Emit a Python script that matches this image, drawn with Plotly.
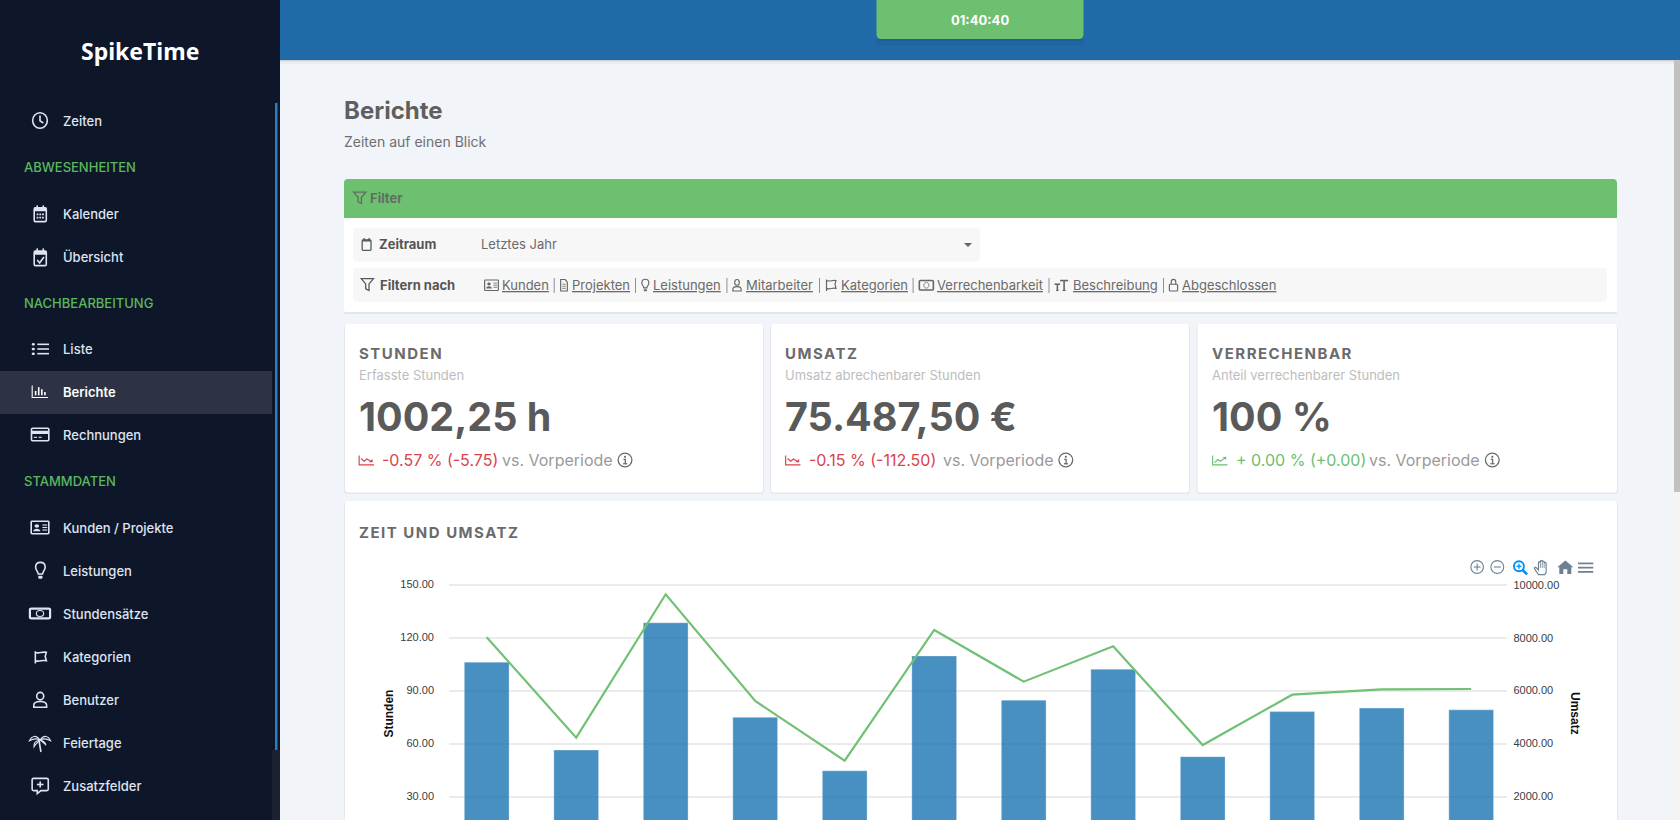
import plotly.graph_objects as go

# ---------- chart data ----------
months = ["Jan", "Feb", "Mär", "Apr", "Mai", "Jun", "Jul", "Aug", "Sep", "Okt", "Nov", "Dez"]
stunden = [106.5, 56.75, 128.75, 75.25, 45.0, 110.0, 85.0, 102.5, 53.0, 78.5, 80.5, 79.5]
umsatz = [8054, 4258, 9680, 5645, 3389, 8330, 6376, 7713, 3981, 5883, 6086, 6098]
stunden_ticks = [30, 60, 90, 120, 150]
umsatz_ticks = [2000, 4000, 6000, 8000, 10000]

W, H = 1680, 820
INTER = "Inter"
shapes, notes = [], []


def tr(d, ox=0, oy=0, sx=1, sy=1):
    out, is_x = [], True
    for t in d.split():
        if t.isalpha():
            out.append(t)
        else:
            v = float(t)
            if is_x:
                out.append(f"{(ox + sx * v) / W:.6f}")
            else:
                out.append(f"{1 - (oy + sy * v) / H:.6f}")
            is_x = not is_x
    return " ".join(out)


def C(cx, cy, r, ry=None):
    ry = r if ry is None else ry
    k, q = 0.5523 * r, 0.5523 * ry
    return (f"M {cx - r} {cy} C {cx - r} {cy - q} {cx - k} {cy - ry} {cx} {cy - ry} "
            f"C {cx + k} {cy - ry} {cx + r} {cy - q} {cx + r} {cy} "
            f"C {cx + r} {cy + q} {cx + k} {cy + ry} {cx} {cy + ry} "
            f"C {cx - k} {cy + ry} {cx - r} {cy + q} {cx - r} {cy} Z")


def R(x0, y0, x1, y1, r=0, top=True, bottom=True):
    rt = r if top else 0
    rb = r if bottom else 0
    return (f"M {x0 + rt} {y0} L {x1 - rt} {y0} Q {x1} {y0} {x1} {y0 + rt} "
            f"L {x1} {y1 - rb} Q {x1} {y1} {x1 - rb} {y1} L {x0 + rb} {y1} "
            f"Q {x0} {y1} {x0} {y1 - rb} L {x0} {y0 + rt} Q {x0} {y0} {x0 + rt} {y0} Z")


def fill(d, color):
    shapes.append(dict(type="path", path=tr(d), xref="paper", yref="paper", fillcolor=color,
                       line=dict(width=0), layer="below"))


def box(x0, y0, x1, y1, color, r=0, **kw):
    fill(R(x0, y0, x1, y1, r, **kw), color)


def text(x, y, s, size=14, color="#333", weight=400, anchor="left", family=INTER, spacing=None,
         under=False, angle=0):
    style = []
    if spacing is not None:
        style.append(f"letter-spacing:{spacing}px")
    if under:
        style.append("text-decoration:underline")
    body = f'<span style="{";".join(style)}">{s}</span>' if style else s
    notes.append(dict(x=x / W, y=1 - y / H, xref="paper", yref="paper", text=body, showarrow=False,
                      xanchor=anchor, yanchor="middle", align=anchor, borderpad=0, borderwidth=0,
                      textangle=angle, font=dict(family=family, size=size, color=color, weight=weight)))


ICONS = {
    "clock": [(C(12, 12, 11), "S"), ("M 12 5 L 12 12.5 L 17 15.5", "S")],
    "cal": [(R(2, 4, 22, 23.5, 2), "S"), (R(2, 4, 22, 9), "f"), ("M 7 0.5 L 7 5", "S"), ("M 17 0.5 L 17 5", "S"),
            (R(6, 12, 9, 14.5), "f"), (R(10.5, 12, 13.5, 14.5), "f"), (R(15, 12, 18, 14.5), "f"),
            (R(6, 16.5, 9, 19), "f"), (R(10.5, 16.5, 13.5, 19), "f"), (R(15, 16.5, 18, 19), "f")],
    "calcheck": [(R(2, 4, 22, 23.5, 2), "S"), (R(2, 4, 22, 9), "f"), ("M 7 0.5 L 7 5", "S"), ("M 17 0.5 L 17 5", "S"),
                 ("M 7 16 L 11 20 L 18 12", "S")],
    "calempty": [(R(3, 4, 21, 23.5, 2), "S"), (R(3, 4, 21, 7), "f"), ("M 7 0.5 L 7 5", "S"), ("M 17 0.5 L 17 5", "S")],
    "list": [(C(2.5, 4, 2.2), "f"), (C(2.5, 12, 2.2), "f"), (C(2.5, 20, 2.2), "f"),
             ("M 8 4 L 24 4", "S"), ("M 8 12 L 24 12", "S"), ("M 8 20 L 24 20", "S")],
    "bars": [("M 1 1 L 1 23 L 24 23", "s"), ("M 6 19 L 6 11", "S"), ("M 10.5 19 L 10.5 4", "S"),
             ("M 15 19 L 15 8", "S"), ("M 19.5 19 L 19.5 13", "S")],
    "credit": [(R(1, 2, 23, 22, 1.5), "S"), (R(1, 6, 23, 11), "f"), ("M 4 16.5 L 8 16.5", "s"), ("M 10 16.5 L 14 16.5", "s")],
    "idcard": [(R(1, 2, 23, 22, 1), "S"), (C(8, 9.5, 2.8), "f"), ("M 3.5 18 C 3.5 12.5 12.5 12.5 12.5 18 Z", "f"),
               ("M 15 8 L 21 8", "s"), ("M 15 12 L 21 12", "s"), ("M 15 16 L 21 16", "s")],
    "bulb": [("M 8 17 C 8 13.5 3 12 3 7.5 C 3 3 7 0.5 12 0.5 C 17 0.5 21 3 21 7.5 C 21 12 16 13.5 16 17 Z", "S"),
             (R(8, 19.5, 16, 23.5, 1.5), "f")],
    "money": [(R(1, 3, 23, 21, 2), "B"), (C(12, 12, 4, 5.5), "s")],
    "flag": [("M 3 1 L 3 23", "S"), ("M 3 3 C 9 6 15 1 22 3 L 20 10 L 22 18 C 15 16 9 21 3 18", "S")],
    "user": [(C(12, 6.5, 5.5), "S"), ("M 2 23 L 2 20 C 2 15.5 6 14.5 12 14.5 C 18 14.5 22 15.5 22 20 L 22 23 Z", "S")],
    "palm": [("M 11 9 L 13 24", "S"), ("M 12 8 C 8 1 3 2 0.5 9 C 5 6 9 6 12 8 Z", "s"), ("M 12 8 C 16 1 21 2 23.5 9 C 19 6 15 6 12 8 Z", "s"),
             ("M 12 8 C 7 9 5 13 5.5 17 C 7 13 10 11 12 8 Z", "s"), ("M 12 8 C 16 9 18 12 18.5 15 C 17 12 14 10 12 8 Z", "s")],
    "msgplus": [("M 3 1 L 21 1 C 22.5 1 23 2 23 3 L 23 17 C 23 18 22 19 21 19 L 13 19 L 8 23.5 L 8 19 L 3 19 C 2 19 1 18 1 17 L 1 3 C 1 2 2 1 3 1 Z", "S"),
                ("M 12 5.5 L 12 14.5", "S"), ("M 7.5 10 L 16.5 10", "S")],
    "funnel": [("M 1 1 L 23 1 L 15 11 L 15 23 L 9 20 L 9 11 Z", "S")],
    "doc": [("M 4 1 L 15 1 L 20 6 L 20 23 L 4 23 Z", "S"), ("M 8 10 L 16 10", "s"), ("M 8 14 L 16 14", "s"), ("M 8 18 L 16 18", "s")],
    "tt": [("M 1 10 L 10 10", "B"), ("M 5.5 10 L 5.5 22", "B"), ("M 3.5 22 L 7.5 22", "S"), ("M 10 3 L 23 3", "B"),
           ("M 16.5 3 L 16.5 22", "B"), ("M 14 22 L 19 22", "S")],
    "lock": [(R(3, 10, 21, 23, 2), "S"), ("M 7 10 L 7 6 C 7 -1 17 -1 17 6 L 17 10", "S")],
    "down": [("M 1 1 L 1 22 L 24 22", "S"), ("M 4 8 L 9 14 L 13 9 L 20 15", "S"), ("M 22 9 L 22 16 L 16 16 Z", "f")],
    "up": [("M 1 1 L 1 22 L 24 22", "S"), ("M 4 17 L 9 10 L 13 14 L 20 7", "S"), ("M 22 4 L 22 11 L 16 5 Z", "f")],
    "info": [(C(12, 12, 11), "S"), (C(12, 7, 1.6), "f"), ("M 9.5 11 L 12.5 11 L 12.5 18", "S"), ("M 9 18 L 15.5 18", "S")],
    "plus": [(C(12, 12, 11), "s"), ("M 12 6 L 12 18", "s"), ("M 6 12 L 18 12", "s")],
    "minus": [(C(12, 12, 11), "s"), ("M 6 12 L 18 12", "s")],
    "mag": [(C(10, 10, 8), "S"), ("M 16 16 L 23 23", "B"), ("M 10 6 L 10 14", "s"), ("M 6 10 L 14 10", "s")],
    "hand": [("M 7 23 C 5 20 2 16 1 14 C 0 12 3 11 5 14 L 7 16 L 7 5 C 7 3 10 3 10 5 L 10 3 C 10 1 13 1 13 3 L 13 4 C 13 2 16 2 16 4 L 16 6 C 16 4 19 4 19 6 L 19 19 C 19 21 18 22 17 23 Z", "S"),
             ("M 10 5 L 10 13", "s"), ("M 13 3 L 13 13", "s"), ("M 16 5 L 16 13", "s")],
    "home": [("M 12 1 L 24 12 L 21 12 L 21 23 L 15 23 L 15 15 L 9 15 L 9 23 L 3 23 L 3 12 L 0 12 Z", "f")],
    "menu": [("M 0 3 L 24 3", "S"), ("M 0 12 L 24 12", "S"), ("M 0 21 L 24 21", "S")],
}
WEIGHT = {"s": 1, "S": 1.45, "B": 2}


def icon(name, x0, y0, x1, y1, color, sw=1.4):
    sx, sy = (x1 - x0) / 24, (y1 - y0) / 24
    for d, kind in ICONS[name]:
        p = tr(d, x0, y0, sx, sy)
        if kind == "f":
            shapes.append(dict(type="path", path=p, xref="paper", yref="paper", fillcolor=color,
                               line=dict(width=0), layer="below"))
        else:
            shapes.append(dict(type="path", path=p, xref="paper", yref="paper", fillcolor="rgba(0,0,0,0)",
                               line=dict(color=color, width=sw * WEIGHT[kind]), layer="below"))


# ---------- page frame ----------
SIDE, PAGE = "#0e172a", "#f1f4f9"
box(0, 0, 280, H, SIDE)
box(272, 750, 280, H, "#1b2130")
box(275, 103, 277.5, 750, "#2f7cbc")
box(0, 371, 272, 414, "#2d3344")

box(280, 60, W, 61, "rgba(0,0,0,0.14)")
box(280, 61, W, 62, "rgba(0,0,0,0.07)")
box(280, 62, W, 64, "rgba(0,0,0,0.03)")
box(280, 0, W, 60, "#206aa8")
box(876, 39, 1084, 41, "rgba(0,0,0,0.10)", 2)
box(876, 41, 1084, 45, "rgba(0,0,0,0.04)", 2)
box(876.5, -5, 1083.5, 39, "#6dc070", 5)
text(980, 19.5, "01:40:40", 13, "#ffffff", 700, "center")

box(1674, 60, W, H, "#f4f4f4")
box(1674, 60, W, 492, "#c1c1c1")

text(140, 51.5, "SpikeTime", 23, "#ffffff", 700, "center", family="Noto Sans")

NAV = "#dfe4f0"
nav_items = [("clock", "Zeiten", 121, 32, 112, 48, 129), ("cal", "Kalender", 214, 33, 205, 47.5, 222),
             ("calcheck", "Übersicht", 257, 33, 248, 47.5, 266), ("list", "Liste", 349, 31.5, 342, 49, 356),
             ("bars", "Berichte", 392, 31.5, 385, 48, 398), ("credit", "Rechnungen", 435, 30.7, 427, 49.6, 442),
             ("idcard", "Kunden / Projekte", 528, 30.4, 520, 49.6, 535), ("bulb", "Leistungen", 571, 34, 562, 46.8, 579),
             ("money", "Stundensätze", 614, 29, 607, 51, 620), ("flag", "Kategorien", 657, 33.6, 650.7, 47.5, 664),
             ("user", "Benutzer", 700, 32.5, 691.7, 47.9, 708), ("palm", "Feiertage", 743, 29, 734, 51, 752),
             ("msgplus", "Zusatzfelder", 786, 31.4, 777.7, 49, 794)]
for name, label, yc, x0, y0, x1, y1 in nav_items:
    active = label == "Berichte"
    icon(name, x0, y0, x1, y1, "#ffffff" if active else NAV, 1.1)
    text(63, yc, label, 13, "#ffffff" if active else NAV, 600 if active else 500)
for label, yc in [("ABWESENHEITEN", 167), ("NACHBEARBEITUNG", 303), ("STAMMDATEN", 481)]:
    text(24, yc, label, 13, "#5cb85c", 500)

# ---------- heading ----------
text(344, 110, "Berichte", 24, "#5f5f5f", 700)
text(344, 141.7, "Zeiten auf einen Blick", 14, "#6f6f6f", 400)

# ---------- filter panel ----------
box(344, 312, 1617, 314, "rgba(0,0,0,0.06)", 1)
box(344, 179, 1617, 312, "#ffffff", 3)
box(344, 179, 1617, 218, "#6dc070", 4, bottom=False)
icon("funnel", 353, 191.7, 366.5, 204, "#5f6f5f", 0.9)
text(369.6, 198.3, "Filter", 13, "#5f6f5f", 700)
box(353, 228, 980, 261.7, "#f7f7f7", 4)
box(353, 268, 1607, 302, "#f7f7f7", 4)
icon("calempty", 360.7, 237.7, 372.5, 250.7, "#5a5a5a", 0.9)
text(378.6, 244.2, "Zeitraum", 13, "#555555", 700)
text(481, 244.2, "Letztes Jahr", 13, "#6a6a6a", 400)
fill("M 964 243 L 972 243 L 968 247 Z", "#666666")
icon("funnel", 360.7, 278, 374, 291, "#5a5a5a", 0.9)
text(380.4, 285, "Filtern nach", 13, "#555555", 700)
links = [("idcard", "Kunden", 484, 499, 502, 553.7), ("doc", "Projekten", 559, 569, 572, 635),
         ("bulb", "Leistungen", 640.7, 650, 652.8, 726.4), ("user", "Mitarbeiter", 732, 742, 745.5, 819),
         ("flag", "Kategorien", 825, 837, 841, 912.6), ("money", "Verrechenbarkeit", 918.7, 934, 937, 1048.5),
         ("tt", "Beschreibung", 1054, 1068.7, 1073, 1163), ("lock", "Abgeschlossen", 1168, 1179, 1182, None)]
for name, label, x0, x1, xt, sep in links:
    icon(name, x0, 279, x1, 291.5, "#666666", 0.8)
    text(xt, 284.8, label, 13, "#6a6a6a", 400, under=True)
    if sep:
        box(sep, 278, sep + 1, 293, "#8a8f98")

# ---------- KPI cards ----------
GREEN, RED = "#6dc070", "#d9434e"
cards = [(345, 763, 358.5, "STUNDEN", "Erfasste Stunden", "1002,25 h", "down", RED, "-0.57 % (-5.75)", 381.5, 502, 625),
         (771, 1189, 785, "UMSATZ", "Umsatz abrechenbarer Stunden", "75.487,50 €", "down", RED, "-0.15 % (-112.50)", 808.7, 942.7, 1065.8),
         (1197.5, 1617, 1212, "VERRECHENBAR", "Anteil verrechenbarer Stunden", "100 %", "up", GREEN, "+ 0.00 % (+0.00)", 1235.7, 1369, 1492.3)]
for x0, x1, xt, title, sub, big, tr_icon, col, delta, xd, xv, xi in cards:
    box(x0 - 1, 325, x1 + 1, 494, "rgba(0,0,0,0.05)", 3)
    box(x0, 324, x1, 492.5, "#ffffff", 3)
    text(xt, 354, title, 15, "#6b6b6b", 700, spacing=1.5)
    text(xt, 374.7, sub, 13, "#bdbdbd", 400)
    text(xt, 417, big, 39.5, "#5a5a5a", 700)
    icon(tr_icon, xt, 455, xt + 15.5, 465.7, col, 0.8)
    text(xd, 460.4, delta, 16, col, 400)
    text(xv, 460.4, "vs. Vorperiode", 16, "#9a9a9a", 400)
    icon("info", xi - 7.5, 452.5, xi + 7.5, 467.5, "#6a6a6a", 0.9)

# ---------- chart card ----------
box(344, 502, 1618, H, "rgba(0,0,0,0.05)", 3)
box(345, 501, 1617, H, "#ffffff", 3, bottom=False)
text(359, 532, "ZEIT UND UMSATZ", 15, "#6b6b6b", 700, spacing=1.5)
text(388.6, 714, "Stunden", 12, "#111111", 700, "center", family="Liberation Sans", angle=-90)
text(1575, 713, "Umsatz", 12, "#111111", 700, "center", family="Liberation Sans", angle=90)

TOOL = "#6e8192"
icon("plus", 1470.3, 560, 1484, 574, TOOL, 1.1)
icon("minus", 1490.3, 560, 1504.3, 574, TOOL, 1.1)
icon("mag", 1512.7, 560, 1527.7, 575, "#008ffb", 1.3)
icon("hand", 1534, 559.3, 1549.3, 575.3, TOOL, 0.8)
icon("home", 1557.3, 560, 1573.3, 574.7, TOOL)
icon("menu", 1578, 562, 1593.3, 573.3, TOOL, 1.2)

# ---------- axes geometry: a pixel on the page <-> a value on the axes ----------
px_per_unit_left = 53 / 30
px_per_unit_right = 211.6 / 8000
zero_y = 850.3
plot_top = 570
cat_step = 89.5
first_center = 486.7
plot_left, plot_right = 449, 1507.4

fig = go.Figure()
fig.add_bar(x=months, y=stunden, name="Stunden", width=0.5, yaxis="y",
            marker=dict(color="rgba(30,118,180,0.81)", line=dict(color="rgba(255,255,255,0.3)", width=1)))
fig.add_scatter(x=months, y=umsatz, name="Umsatz", mode="lines", yaxis="y2",
                line=dict(color="#70c173", width=2.2, shape="linear"))

fig.update_layout(
    width=W, height=H, margin=dict(l=0, r=0, t=0, b=0, pad=0), autosize=False,
    paper_bgcolor=PAGE, plot_bgcolor="rgba(0,0,0,0)", showlegend=False, shapes=shapes, annotations=notes,
    xaxis=dict(domain=[plot_left / W, plot_right / W], type="category", categoryorder="array", categoryarray=months,
               range=[(plot_left - first_center) / cat_step, 11 + (plot_right - (first_center + 11 * cat_step)) / cat_step],
               showgrid=False, zeroline=False, showline=False, showticklabels=False, ticks=""),
    yaxis=dict(domain=[0, 1 - plot_top / H], range=[(zero_y - H) / px_per_unit_left, (zero_y - plot_top) / px_per_unit_left],
               tickvals=stunden_ticks, tickformat=".2f", showgrid=True, gridcolor="#ebebeb", gridwidth=1.5,
               zeroline=False, showline=False, ticks="", ticklabelstandoff=14, ticklabelshift=-1,
               tickfont=dict(family="Liberation Sans", size=11, color="#373d3f")),
    yaxis2=dict(domain=[0, 1 - plot_top / H], overlaying="y", side="right", anchor="x",
                range=[(zero_y - H) / px_per_unit_right, (zero_y - plot_top) / px_per_unit_right],
                tickvals=umsatz_ticks, tickformat=".2f", showgrid=False, zeroline=False, showline=False, ticks="",
                ticklabelstandoff=5, ticklabelshift=-1,
                tickfont=dict(family="Liberation Sans", size=11, color="#373d3f")),
)
fig.write_html("out.html", config=dict(displayModeBar=False),
               post_script="document.body.style.margin='0';document.body.style.overflow='hidden';")
